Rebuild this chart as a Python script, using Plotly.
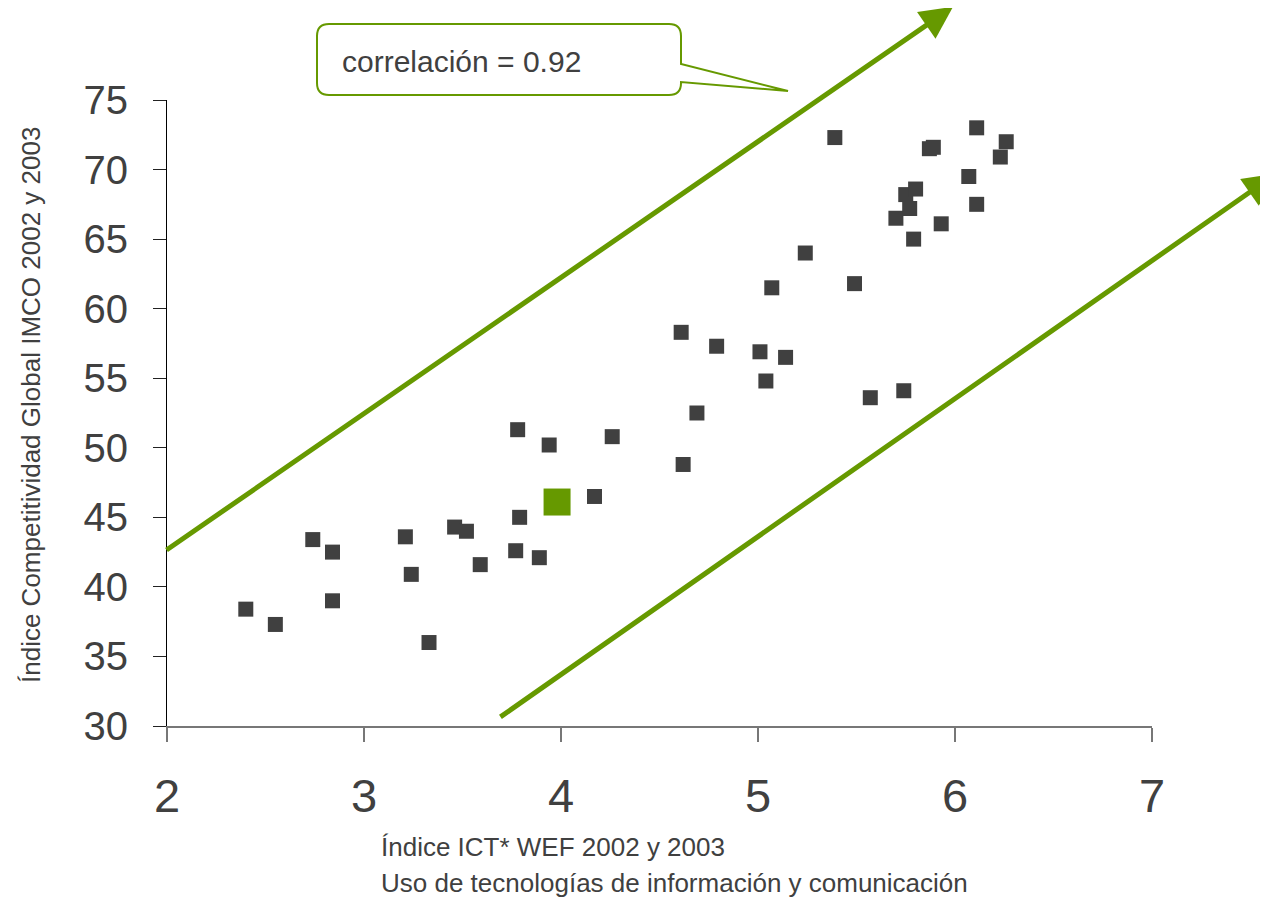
import plotly.graph_objects as go

# ---- data ----
ict_index = [2.40, 2.55, 2.74, 2.84, 2.84, 3.21, 3.24, 3.33, 3.46, 3.52, 3.59,
             3.77, 3.78, 3.79, 3.89, 3.94, 4.17, 4.26, 4.61, 4.62, 4.69, 4.79,
             5.01, 5.04, 5.07, 5.14, 5.24, 5.39, 5.49, 5.57, 5.70, 5.74, 5.75,
             5.77, 5.79, 5.80, 5.87, 5.89, 5.93, 6.07, 6.11, 6.11, 6.23, 6.26]
imco_index = [38.4, 37.3, 43.4, 42.5, 39.0, 43.6, 40.9, 36.0, 44.3, 44.0, 41.6,
              42.6, 51.3, 45.0, 42.1, 50.2, 46.5, 50.8, 58.3, 48.8, 52.5, 57.3,
              56.9, 54.8, 61.5, 56.5, 64.0, 72.3, 61.8, 53.6, 66.5, 54.1, 68.2,
              67.2, 65.0, 68.6, 71.5, 71.6, 66.1, 69.5, 73.0, 67.5, 70.9, 72.0]
highlight_x = [3.98]
highlight_y = [46.1]

x_ticks = [2, 3, 4, 5, 6, 7]
y_ticks = [30, 35, 40, 45, 50, 55, 60, 65, 70, 75]

callout_text = "correlación = 0.92"
x_title_1 = "Índice ICT* WEF 2002 y 2003"
x_title_2 = "Uso de tecnologías de información y comunicación"
y_title = "Índice Competitividad Global IMCO 2002 y 2003"

GREEN = "#669900"
DARK = "#404040"
FONT = "Liberation Sans, Arial, sans-serif"

W, H = 1268, 910
OFF = 8  # page body margin
L, R, T, B = 159, 124, 92, 192
PW, PH = W - L - R, H - T - B
X0, Y0 = L + OFF, T + OFF + PH  # screen px of plot left / bottom


def px(xp):
    return (xp - X0) / PW


def py(yp):
    return (Y0 - yp) / PH


fig = go.Figure()
fig.add_trace(go.Scatter(
    x=ict_index, y=imco_index, mode="markers",
    marker=dict(symbol="square", size=15, color=DARK, line=dict(width=0)),
    showlegend=False, hoverinfo="skip"))
fig.add_trace(go.Scatter(
    x=highlight_x, y=highlight_y, mode="markers",
    marker=dict(symbol="square", size=27, color=GREEN, line=dict(width=0)),
    showlegend=False, hoverinfo="skip"))

# callout box with tail
bl, br, bt, bb, r = 317, 681, 24, 95, 12
path = (
    f"M {px(bl + r)},{py(bt)} L {px(br - r)},{py(bt)} "
    f"Q {px(br)},{py(bt)} {px(br)},{py(bt + r)} "
    f"L {px(br)},{py(64)} L {px(788)},{py(91)} L {px(br)},{py(82)} "
    f"L {px(br)},{py(bb - r)} Q {px(br)},{py(bb)} {px(br - r)},{py(bb)} "
    f"L {px(bl + r)},{py(bb)} Q {px(bl)},{py(bb)} {px(bl)},{py(bb - r)} "
    f"L {px(bl)},{py(bt + r)} Q {px(bl)},{py(bt)} {px(bl + r)},{py(bt)} Z"
)
fig.add_shape(type="path", path=path, xref="paper", yref="paper",
              line=dict(color=GREEN, width=2), fillcolor="white", layer="above")

annotations = [
    dict(x=5.99, y=81.7, ax=1.99, ay=42.58, xref="x", yref="y",
         axref="x", ayref="y", text="", showarrow=True, arrowhead=2,
         arrowsize=1.3, arrowwidth=5, arrowcolor=GREEN),
    dict(x=7.63, y=69.7, ax=3.685, ay=30.58, xref="x", yref="y",
         axref="x", ayref="y", text="", showarrow=True, arrowhead=2,
         arrowsize=1.3, arrowwidth=5, arrowcolor=GREEN),
    dict(x=px(340), y=py(61), xref="paper", yref="paper", text=callout_text,
         showarrow=False, xanchor="left", yanchor="middle",
         font=dict(family=FONT, size=30, color=DARK)),
    dict(x=px(379), y=py(847), xref="paper", yref="paper", text=x_title_1,
         showarrow=False, xanchor="left", yanchor="middle",
         font=dict(family=FONT, size=26, color=DARK)),
    dict(x=px(379), y=py(883), xref="paper", yref="paper", text=x_title_2,
         showarrow=False, xanchor="left", yanchor="middle",
         font=dict(family=FONT, size=26, color=DARK)),
    dict(x=px(31), y=py(405), xref="paper", yref="paper", text=y_title,
         showarrow=False, xanchor="center", yanchor="middle", textangle=-90,
         font=dict(family=FONT, size=26, color=DARK)),
]

fig.update_layout(
    width=W, height=H, autosize=False,
    margin=dict(l=L, r=R, t=T, b=B, pad=0),
    plot_bgcolor="white", paper_bgcolor="white",
    annotations=annotations,
    xaxis=dict(range=[2, 7], tickvals=x_ticks, ticks="outside", ticklen=14,
               tickcolor="#777777", tickwidth=1.5, showline=True,
               linecolor="#777777", linewidth=1.5, showgrid=False,
               zeroline=False, ticklabelstandoff=14,
               tickfont=dict(family=FONT, size=47, color=DARK)),
    yaxis=dict(range=[30, 75], tickvals=y_ticks, ticks="outside", ticklen=13,
               tickcolor="#222222", tickwidth=1.2, showline=True,
               linecolor="#000000", linewidth=1.2, showgrid=False,
               zeroline=False, ticklabelstandoff=17,
               tickfont=dict(family=FONT, size=40, color=DARK)),
)

fig.write_html("out.html")
